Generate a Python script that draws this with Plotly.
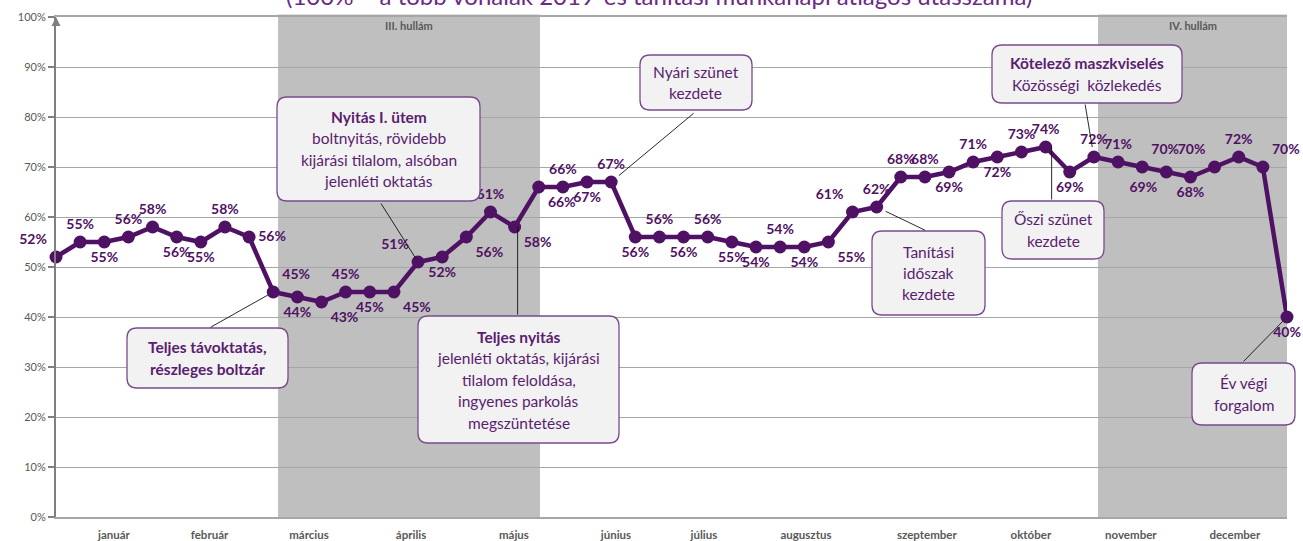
import plotly.graph_objects as go

# heti adatok (2021), 100% = 2019-es tanítási munkanapi átlag
hetek = list(range(1, 53))
utasszam = [52, 55, 55, 56, 58, 56, 55, 58, 56,
            45, 44, 43, 45, 45, 45,
            51, 52, 56, 61, 58,
            66, 66, 67, 67,
            56, 56, 56, 56, 55,
            54, 54, 54, 55,
            61, 62, 68, 68, 69, 71, 72, 73, 74,
            69, 72, 71, 70, 69, 68, 70, 72, 70, 40]
cimkek = [f"{v}%" for v in utasszam]

honapok = ["január", "február", "március", "április", "május", "június",
           "július", "augusztus", "szeptember", "október", "november", "december"]
honap_tick = [3.4, 7.36, 11.48, 15.71, 19.97, 24.2, 27.84, 32.07, 37.08, 41.39, 45.53, 49.84]

szazalek = list(range(0, 101, 10))
szazalek_szoveg = [f"{v}%" for v in szazalek]

hullamok = [("III. hullám", 10.2, 21.05), ("IV. hullám", 44.17, 52)]

cim = "(100% = a több vonalak 2019-es tanítási munkanapi átlagos utasszáma)"

# címke helyzete pontonként
cimke_hely = ["top left", "top center", "bottom center", "top center", "top center",
              "bottom center", "bottom center", "top center", "middle right", "top right",
              "bottom center", "bottom right", "top center", "bottom center", "bottom right",
              "top left", "bottom center", "bottom right", "top center", "bottom right",
              "bottom right", "top center", "bottom center", "top center", "bottom center",
              "top center", "bottom center", "top center", "bottom center", "bottom center",
              "top center", "bottom center", "bottom right", "top left", "top center",
              "top center", "top center", "bottom center", "top center", "bottom center",
              "top center", "top center", "bottom center", "top center", "top center",
              "top right", "bottom left", "bottom center", "top left", "top center",
              "top right", "bottom center"]

LILA = "#4f1163"
DOBOZ_SZOVEG = "#5a1d70"
SZURKE = "#595959"
BETU = "Lato"

# rajzterület pixelben
BAL, JOBB, FENT, LENT = 56, 1287, 17, 517
PW, PH = JOBB - BAL, LENT - FENT


def px_x(px):
    return (px - BAL) / PW


def px_y(py):
    return (LENT - py) / PH


def kerek_doboz(x0, y0, x1, y1, r=10):
    rx, ry = r / PW, r / PH
    X0, X1 = px_x(x0), px_x(x1)
    Yt, Yb = px_y(y0), px_y(y1)
    path = (f"M {X0 + rx},{Yb} L {X1 - rx},{Yb} Q {X1},{Yb} {X1},{Yb + ry} "
            f"L {X1},{Yt - ry} Q {X1},{Yt} {X1 - rx},{Yt} L {X0 + rx},{Yt} "
            f"Q {X0},{Yt} {X0},{Yt - ry} L {X0},{Yb + ry} Q {X0},{Yb} {X0 + rx},{Yb} Z")
    return dict(type="path", path=path, xref="paper", yref="paper",
                fillcolor="#f2f2f2", line=dict(color="#7a4b8c", width=1.3), layer="above")


# (doboz px, sorok, kapcsolódó hét, nyíl farka px, standoff, xshift)
hivatkozasok = [
    ((127, 328, 288, 388), ["<b>Teljes távoktatás,</b>", "<b>részleges boltzár</b>"], 10, (-64, 36), 6, 0),
    ((277, 97, 480, 201), ["<b>Nyitás I. ütem</b>", "boltnyitás, rövidebb",
                           "kijárási tilalom, alsóban", "jelenléti oktatás"], 16, (-38, -60), 4, 0),
    ((418, 316, 619, 443), ["<b>Teljes nyitás</b>", "jelenléti oktatás, kijárási",
                            "tilalom feloldása,", "ingyenes parkolás", "megszüntetése"], 20, (0, 89), 0, 3),
    ((640, 55, 752, 110), ["Nyári szünet", "kezdete"], 24, (84, -70), 10, 0),
    ((872, 231, 985, 315), ["Tanítási", "időszak", "kezdete"], 35, (50, 24), 10, 0),
    ((992, 45, 1182, 103), ["<b>Kötelező maszkviselés</b>", "Közösségi  közlekedés"], 44, (-9, -54), 10, 0),
    ((1002, 201, 1104, 259), ["Őszi szünet", "kezdete"], 42, (0, 54), 0, 6),
    ((1192, 363, 1295, 425), ["Év végi", "forgalom"], 52, (-45, 46), 6, 0),
]

fig = go.Figure()

fig.add_trace(go.Scatter(
    x=hetek, y=utasszam, mode="lines+markers+text",
    text=cimkek, textposition=cimke_hely,
    line=dict(color=LILA, width=4.5),
    marker=dict(size=13, color=LILA),
    textfont=dict(family=BETU, size=14, color=LILA, weight=700),
    cliponaxis=False, hoverinfo="x+y", showlegend=False,
))

alakzatok = []
feliratok = []

for nev, x0, x1 in hullamok:
    alakzatok.append(dict(type="rect", xref="x", yref="paper", x0=x0, x1=x1, y0=0, y1=1.005,
                          fillcolor="#bfbfbf", line=dict(width=0), layer="below"))
    feliratok.append(dict(x=(x0 + x1) / 2, y=px_y(25), xref="x", yref="paper", text=f"<b>{nev}</b>",
                          xanchor="center", yanchor="middle", showarrow=False,
                          font=dict(family=BETU, size=11, color=SZURKE)))

for (x0, y0, x1, y1), sorok, het, (ax, ay), stand, xs in hivatkozasok:
    alakzatok.append(kerek_doboz(x0, y0, x1, y1))
    kozep = (y0 + y1) / 2
    koz = 21.5
    elso = kozep - koz * (len(sorok) - 1) / 2
    for i, sor in enumerate(sorok):
        feliratok.append(dict(x=px_x((x0 + x1) / 2), y=px_y(elso + i * koz), xref="paper", yref="paper",
                              text=sor, showarrow=False, xanchor="center", yanchor="middle",
                              font=dict(family=BETU, size=15.5, color=DOBOZ_SZOVEG)))
    feliratok.append(dict(x=het, y=utasszam[het - 1], xref="x", yref="y", text="",
                          showarrow=True, arrowhead=0, arrowwidth=0.9, arrowcolor="#111111",
                          ax=ax, ay=ay, standoff=stand, xshift=xs))

# y tengely nyílhegye
feliratok.append(dict(x=1, y=100, xref="x", yref="y", text="", showarrow=True,
                      arrowhead=2, arrowsize=1.2, arrowwidth=1.5, arrowcolor="#7f7f7f",
                      ax=0, ay=10, standoff=0))

feliratok.append(dict(x=px_x(659), y=px_y(-4), xref="paper", yref="paper", text=cim,
                      xanchor="center", yanchor="middle", showarrow=False,
                      font=dict(family=BETU, size=24, color="#6b2a86")))

fig.update_layout(
    width=1303, height=541,
    margin=dict(l=BAL, r=1303 - JOBB, t=FENT, b=541 - LENT),
    plot_bgcolor="white", paper_bgcolor="white",
    shapes=alakzatok, annotations=feliratok,
    xaxis=dict(range=[1, 52], showgrid=False, zeroline=False, automargin=False,
               showline=True, mirror=True, linecolor="#a6a6a6", linewidth=2,
               tickvals=honap_tick, ticktext=honapok, ticks="", ticklabelstandoff=6,
               tickfont=dict(family=BETU, size=11.5, color=SZURKE, weight=700)),
    yaxis=dict(range=[0, 100], tickvals=szazalek, ticktext=szazalek_szoveg, automargin=False,
               showgrid=True, gridcolor="#a6a6a6", gridwidth=1, zeroline=False,
               showline=True, linecolor="#7f7f7f", linewidth=2,
               ticks="outside", ticklen=6, tickwidth=1.5, tickcolor="#7f7f7f",
               tickfont=dict(family=BETU, size=11, color=SZURKE)),
    font=dict(family=BETU),
)

fig.write_html("out.html", config={"displayModeBar": False},
               post_script="document.body.style.margin = '0';")
